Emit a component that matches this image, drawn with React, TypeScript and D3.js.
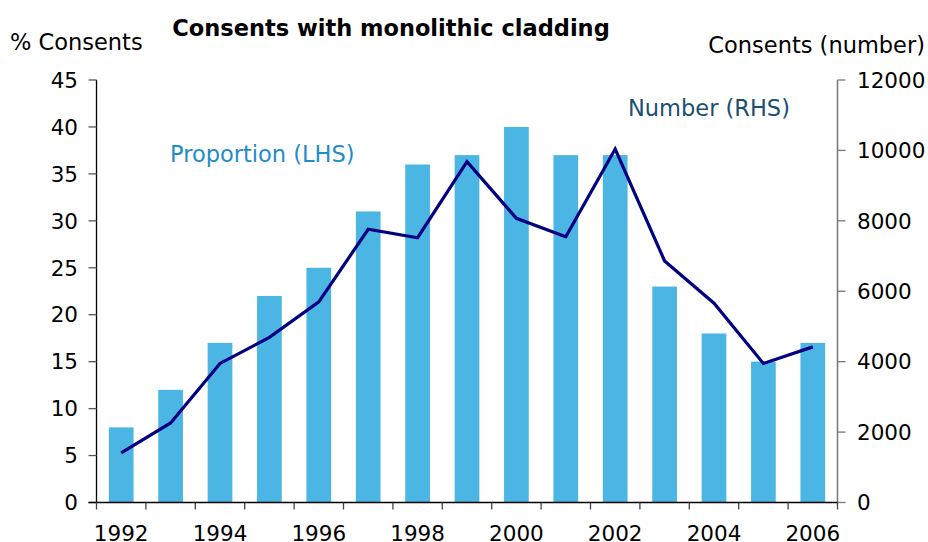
import React from "react";
import * as d3 from "d3";

const years = ["1992","1993","1994","1995","1996","1997","1998","1999","2000","2001","2002","2003","2004","2005","2006"];
const proportion = [8, 12, 17, 22, 25, 31, 36, 37, 40, 37, 37, 23, 18, 15, 17];
const numbers = [1410, 2260, 3950, 4690, 5700, 7760, 7520, 9680, 8070, 7550, 10040, 6860, 5660, 3950, 4420];
const leftTicks = [0, 5, 10, 15, 20, 25, 30, 35, 40, 45];
const rightTicks = [0, 2000, 4000, 6000, 8000, 10000, 12000];

const W = 928, H = 542;
const X0 = 96.5, X1 = 837.5, Y0 = 502.5, Y1 = 80;
const FONT = "'DejaVu Sans', Verdana, sans-serif";

export default function App() {
  const x = d3.scaleBand<string>().domain(years).range([X0, X1]).paddingInner(0.5).paddingOuter(0.25);
  const step = x.step();
  const yL = d3.scaleLinear().domain([0, 45]).range([Y0, Y1]);
  const yR = d3.scaleLinear().domain([0, 12000]).range([Y0, Y1]);
  const line = d3.line<number>()
    .x((_, i) => (x(years[i]) as number) + x.bandwidth() / 2)
    .y((d) => yR(d));
  const bandEdges = d3.range(years.length + 1).map((i) => X0 + i * step);

  return (
    <svg width={W} height={H} style={{ position: "absolute", left: 0, top: 0, background: "#fff" }} fontFamily={FONT}>
      <rect width={W} height={H} fill="#fff" />
      {years.map((yr, i) => (
        <rect key={yr} x={x(yr)} y={yL(proportion[i])} width={x.bandwidth()} height={Y0 - yL(proportion[i])} fill="#4BB6E4" />
      ))}
      <path d={line(numbers) || ""} fill="none" stroke="#000080" strokeWidth={3.2} strokeLinejoin="miter" />

      {/* left axis */}
      <line x1={X0} x2={X0} y1={Y1} y2={Y0} stroke="#000" strokeWidth={1.3} />
      {leftTicks.map((t) => (
        <g key={"l" + t}>
          <line x1={X0 - 8} x2={X0} y1={yL(t)} y2={yL(t)} stroke="#555" strokeWidth={1.3} />
          <text x={78} y={yL(t)} dy="0.36em" textAnchor="end" fontSize={21.5} fill="#000">{t}</text>
        </g>
      ))}
      {/* right axis */}
      <line x1={X1} x2={X1} y1={Y1} y2={Y0} stroke="#777" strokeWidth={1.5} />
      {rightTicks.map((t) => (
        <g key={"r" + t}>
          <line x1={X1} x2={X1 + 8} y1={yR(t)} y2={yR(t)} stroke="#777" strokeWidth={1.3} />
          <text x={857} y={yR(t)} dy="0.36em" textAnchor="start" fontSize={21.5} fill="#000">{t}</text>
        </g>
      ))}
      {/* x axis */}
      <line x1={X0 - 8} x2={X1} y1={Y0} y2={Y0} stroke="#000" strokeWidth={1.3} />
      {bandEdges.map((e, i) => (
        <line key={"t" + i} x1={e} x2={e} y1={Y0} y2={Y0 + 7} stroke="#444" strokeWidth={1.3} />
      ))}
      {years.map((yr, i) => i % 2 === 0 ? (
        <text key={"x" + yr} x={(x(yr) as number) + x.bandwidth() / 2} y={541} textAnchor="middle" fontSize={21.5} fill="#000">{yr}</text>
      ) : null)}

      <text x={391} y={36} textAnchor="middle" fontSize={22.5} fontWeight="bold" fill="#000">Consents with monolithic cladding</text>
      <text x={10} y={50} fontSize={22.5} fill="#000">% Consents</text>
      <text x={925} y={53} textAnchor="end" fontSize={22.5} fill="#000">Consents (number)</text>
      <text x={170} y={162} fontSize={22.5} fill="#1F8CC9">Proportion (LHS)</text>
      <text x={628} y={116} fontSize={22.5} fill="#1A4F73">Number (RHS)</text>
    </svg>
  );
}
